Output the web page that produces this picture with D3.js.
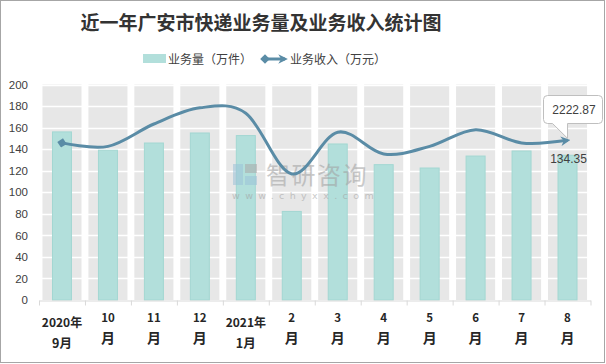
<!DOCTYPE html>
<html><head><meta charset="utf-8">
<script src="https://cdn.jsdelivr.net/npm/d3@7/dist/d3.min.js"></script>
<style>body{margin:0;background:#fff}svg{display:block}</style>
</head><body>
<script>
const title = "近一年广安市快递业务量及业务收入统计图";
const categories = ["2020年9月","10月","11月","12月","2021年1月","2月","3月","4月","5月","6月","7月","8月"];
const xLabelLines = [["2020年","9月"],["10","月"],["11","月"],["12","月"],["2021年","1月"],["2","月"],["3","月"],["4","月"],["5","月"],["6","月"],["7","月"],["8","月"]];
const volume = [156, 139, 145.7, 155, 152.6, 82.2, 144.8, 125.6, 122.5, 133.6, 138.3, 134.35];   // 业务量（万件）
const revenue = [2187, 2139, 2450, 2675, 2600, 1755, 2336, 2033, 2139, 2370, 2187, 2222.87];     // 业务收入（万元）
const yTicks = [0,20,40,60,80,100,120,140,160,180,200];
const legendNames = ["业务量（万件）","业务收入（万元）"];
const watermark = ["智研咨询","www.chyxx.com"];

const W = 606, H = 364;
const svg = d3.select("body").append("svg").attr("width", W).attr("height", H);
const font = "'Noto Sans CJK SC','Liberation Sans',sans-serif";

svg.append("rect").attr("x",0.5).attr("y",0.5).attr("width",604).attr("height",362)
  .attr("fill","#fff").attr("stroke","#a6a6a6");

const x = d3.scaleBand().domain(categories).range([39, 590.5]).paddingInner(0).paddingOuter(0);
const xb = d3.scaleLinear().domain([0, categories.length]).range([39, 590.5]);
const y = d3.scaleLinear().domain([0,200]).range([300, 84.5]);
const y2 = d3.scaleLinear().domain([0,3000]).range([300, 84.5]);

// gray background columns
const colW = x.bandwidth()*0.85;
svg.append("g").selectAll("rect").data(categories).join("rect")
  .attr("x", d => x(d) + (x.bandwidth()-colW)/2).attr("width", colW)
  .attr("y", y(200)).attr("height", y(0)-y(200)).attr("fill","#e7e7e7");

// white gridlines
svg.append("g").selectAll("line").data(yTicks.slice(1)).join("line")
  .attr("x1", 39).attr("x2", 590.5).attr("y1", d => Math.round(y(d))+0.5).attr("y2", d => Math.round(y(d))+0.5)
  .attr("stroke","#fff").attr("stroke-width",1.5);

// bars
const barW = x.bandwidth()*0.435;
svg.append("g").selectAll("rect").data(volume).join("rect")
  .attr("x", (d,i) => x(categories[i]) + (x.bandwidth()-barW)/2 + 0.5).attr("width", barW-1)
  .attr("y", d => y(d)).attr("height", d => y(0)-y(d))
  .attr("fill","#b2dfdb").attr("stroke","#a3d7d2").attr("stroke-width",1);

// y axis
const ya = svg.append("g").attr("transform","translate(28,0)")
  .call(d3.axisLeft(y).tickValues(yTicks).tickSize(0).tickPadding(0));
ya.select(".domain").remove();
ya.selectAll("text").attr("font-family","'Liberation Sans',Arial,sans-serif").attr("font-size",11.5).attr("fill","#404040");

// x axis (boundary ticks)
const xa = svg.append("g").attr("transform","translate(0,300.5)")
  .call(d3.axisBottom(xb).tickValues(d3.range(categories.length+1)).tickSize(5).tickSizeOuter(0).tickFormat(""));
xa.select(".domain").attr("stroke","#d9d9d9");
xa.selectAll(".tick line").attr("stroke","#d9d9d9");

// x labels
const xl = svg.append("g").attr("font-family", font).attr("font-weight","bold").attr("fill","#262626").attr("text-anchor","middle");
xLabelLines.forEach((lines,i) => {
  const cx = x(categories[i]) + x.bandwidth()/2;
  if (lines[0].length > 2) {
    xl.append("text").attr("x",cx).attr("y",326.5).attr("font-size",12).text(lines[0]);
    xl.append("text").attr("x",cx).attr("y",348).attr("font-size",12.5).text(lines[1]);
  } else {
    xl.append("text").attr("x",cx).attr("y",322).attr("font-size",11.5).text(lines[0]);
    xl.append("text").attr("x",cx).attr("y",342.5).attr("font-size",14).text(lines[1]);
  }
});

// watermark
const wm = svg.append("g").attr("opacity",0.55);
wm.append("rect").attr("x",233).attr("y",164).attr("width",10).attr("height",21).attr("fill","#9cc2d8");
wm.append("rect").attr("x",245).attr("y",164).attr("width",12).attr("height",9).attr("fill","#a9a9a9");
wm.append("rect").attr("x",245).attr("y",176).attr("width",12).attr("height",9).attr("fill","#9cc2d8");
wm.append("text").attr("x",266).attr("y",184).attr("font-family",font).attr("font-size",24).attr("fill","#a0a0a0").attr("letter-spacing",1.5).text(watermark[0]);
wm.append("text").attr("x",232).attr("y",199).attr("font-family","'DejaVu Sans',sans-serif").attr("font-size",9.5).attr("fill","#a0a0a0").attr("letter-spacing",5.4).text(watermark[1]);

// line
const lineColor = "#5a8ca6";
const defs = svg.append("defs");
defs.append("marker").attr("id","mEnd").attr("viewBox","0 0 10 10").attr("refX",7).attr("refY",5)
  .attr("markerWidth",3.2).attr("markerHeight",3.2).attr("orient","auto").attr("markerUnits","strokeWidth")
  .append("path").attr("d","M0,0 L10,5 L0,10 L3,5 Z").attr("fill",lineColor);
defs.append("marker").attr("id","mStart").attr("viewBox","0 0 10 10").attr("refX",5).attr("refY",5)
  .attr("markerWidth",3.2).attr("markerHeight",3.2).attr("orient","auto").attr("markerUnits","strokeWidth")
  .append("path").attr("d","M0,5 L5,0 L10,5 L5,10 Z").attr("fill",lineColor);

const line = d3.line().x((d,i) => x(categories[i]) + x.bandwidth()/2).y(d => y2(d)).curve(d3.curveCatmullRom.alpha(0));
svg.append("path").datum(revenue).attr("d", line).attr("fill","none").attr("stroke",lineColor)
  .attr("stroke-width",3).attr("marker-end","url(#mEnd)").attr("marker-start","url(#mStart)");

// callout for last revenue value
const li = revenue.length-1;
const px = x(categories[li]) + x.bandwidth()/2, py = y2(revenue[li]);
const bx = 543.5, by = 95.5, bw = 59, bh = 28;
svg.append("path").attr("d",
  `M${bx+4},${by} H${bx+bw-4} Q${bx+bw},${by} ${bx+bw},${by+4} V${by+bh-4} Q${bx+bw},${by+bh} ${bx+bw-4},${by+bh} H${px} L${px},${py-2} L${bx+9},${by+bh} H${bx+4} Q${bx},${by+bh} ${bx},${by+bh-4} V${by+4} Q${bx},${by} ${bx+4},${by} Z`)
  .attr("fill","#fff").attr("stroke","#bfbfbf");
svg.append("text").attr("x",bx+bw/2+1).attr("y",by+18).attr("text-anchor","middle")
  .attr("font-family","'Liberation Sans',Arial,sans-serif").attr("font-size",12).attr("fill","#404040")
  .text(d3.format(".2f")(revenue[li]));
svg.append("text").attr("x",x(categories[li]) + x.bandwidth()/2 + 1).attr("y",163).attr("text-anchor","middle")
  .attr("font-family","'Liberation Sans',Arial,sans-serif").attr("font-size",12).attr("fill","#404040")
  .text(d3.format(".2f")(volume[li]));

// title
svg.append("text").attr("x",261).attr("y",30).attr("text-anchor","middle")
  .attr("font-family",font).attr("font-weight","bold").attr("font-size",19).attr("fill","#333")
  .text(title);

// legend
const lg = svg.append("g").attr("font-family",font).attr("font-size",12).attr("fill","#404040");
lg.append("rect").attr("x",143).attr("y",54).attr("width",23).attr("height",9).attr("fill","#b2dfdb");
lg.append("text").attr("x",168).attr("y",63.5).text(legendNames[0]);
lg.append("line").attr("x1",265).attr("x2",285).attr("y1",59).attr("y2",59).attr("stroke",lineColor).attr("stroke-width",3)
  .attr("marker-end","url(#mEnd)").attr("marker-start","url(#mStart)");
lg.append("text").attr("x",290).attr("y",63.5).text(legendNames[1]);
</script>
</body></html>
